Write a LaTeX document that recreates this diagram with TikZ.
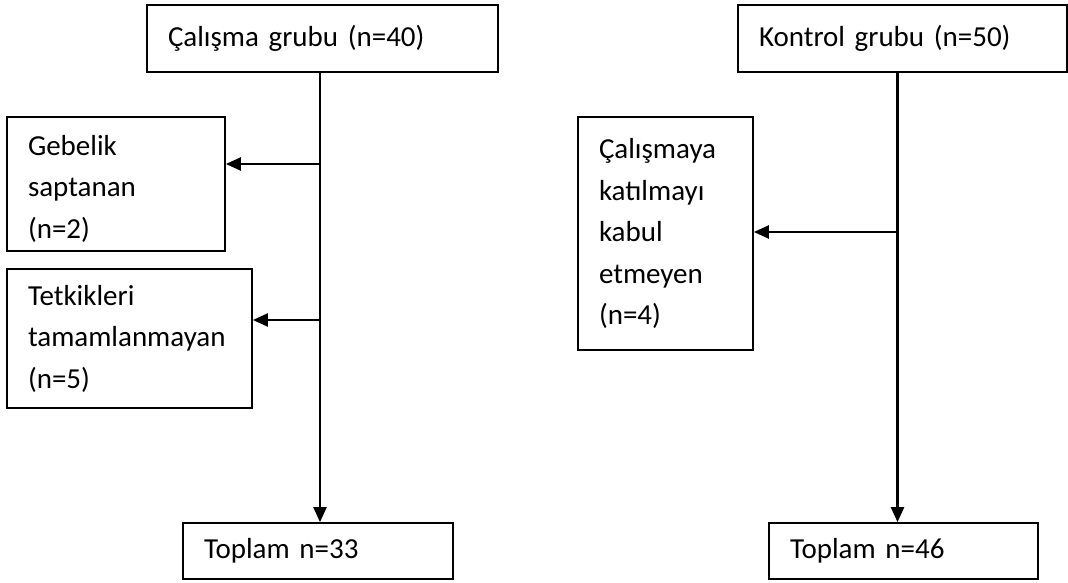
\documentclass[tikz,border=0pt]{standalone}
\usepackage{fontspec}
\setmainfont{Carlito}[WordSpace=0.75]
\usetikzlibrary{arrows.meta}

\begin{document}
\begin{tikzpicture}[x=1pt, y=-1pt,
    box/.style={draw, line width=1.7pt, inner xsep=21pt, inner ysep=0pt, align=left,
        font=\fontsize{29}{41.5}\selectfont},
    flow/.style={line width=2.2pt, -{Triangle[length=15pt,width=13pt]}}]
    \useasboundingbox (0,0) rectangle (1068,583);

    % Study group
    \node[box, text width=309pt, minimum height=67pt] (calisma) at (322.5,38.5) {Çalışma grubu (n=40)};
    \node[box, text width=176pt, minimum height=134pt] (gebelik) at (116,184) {\rule{0pt}{30pt}Gebelik\\saptanan\\(n=2)};
    \node[box, text width=203pt, minimum height=139pt] (tetkik) at (129.5,338.5) {Tetkikleri\\tamamlanmayan\\(n=5)};
    \node[box, text width=228pt, minimum height=56pt] (toplamA) at (318,551) {Toplam n=33};

    % Control group
    \node[box, text width=287pt, minimum height=67pt] (kontrol) at (902.5,38.5) {Kontrol grubu (n=50)};
    \node[box, text width=133pt, minimum height=233pt] (katilmayan) at (665.5,233.5) {Çalışmaya\\katılmayı\\kabul\\etmeyen\\(n=4)};
    \node[box, text width=227pt, minimum height=56pt] (toplamB) at (903.5,551) {Toplam n=46};

    % Trunks and branches
    \coordinate (trunkA) at (320,72);
    \coordinate (forkA1) at (320,164);
    \coordinate (forkA2) at (320,320);
    \coordinate (trunkB) at (897.5,72);
    \coordinate (forkB) at (897.5,232);

    \draw[flow] (trunkA) -- (trunkA |- toplamA.north);
    \draw[flow] (forkA1) -- (forkA1 -| gebelik.east);
    \draw[flow] (forkA2) -- (forkA2 -| tetkik.east);
    \draw[flow] (trunkB) -- (trunkB |- toplamB.north);
    \draw[flow] (forkB) -- (forkB -| katilmayan.east);
\end{tikzpicture}
\end{document}
